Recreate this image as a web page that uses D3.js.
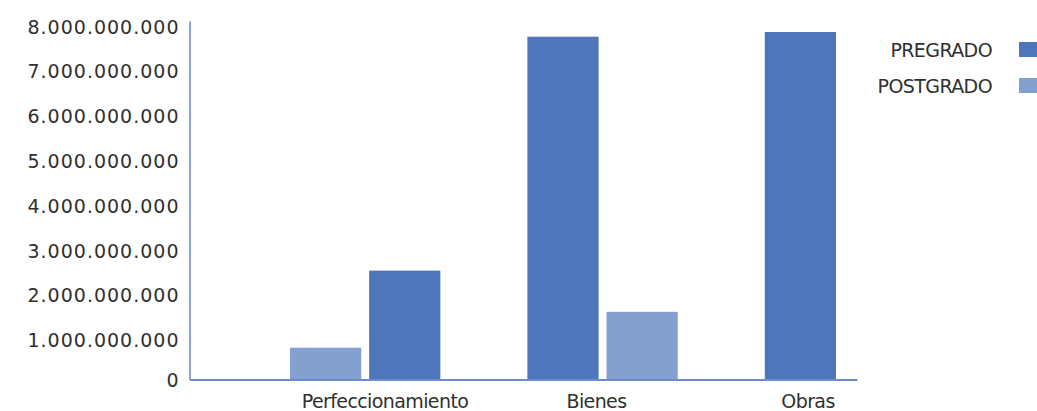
<!DOCTYPE html>
<html>
<head>
<meta charset="utf-8">
<script src="https://cdn.jsdelivr.net/npm/d3@7"></script>
<style>
  body { margin: 0; background: #fff; }
  text { font-family: "DejaVu Sans", sans-serif; fill: #303030; }
</style>
</head>
<body>
<div id="chart"></div>
<script>
// Data
var categories = ["Perfeccionamiento", "Bienes", "Obras"];
var seriesNames = ["PREGRADO", "POSTGRADO"];
var pregrado = [2430000000, 7650000000, 7755000000];
var postgrado = [710000000, 1510000000, null];
// order of the bars inside each group, as drawn in the picture
var barOrder = [["POSTGRADO", "PREGRADO"], ["PREGRADO", "POSTGRADO"], ["PREGRADO"]];
var yTicks = [0, 1e9, 2e9, 3e9, 4e9, 5e9, 6e9, 7e9, 8e9];

var w = 1037;
var h = 411;
var colors = { "PREGRADO": "#4e76ba", "POSTGRADO": "#83a0cf" };
var valuesBySeries = { "PREGRADO": pregrado, "POSTGRADO": postgrado };

// Plot area (names avoid window.top)
var plotLeft = 189.5, plotRight = 857, plotTop = 21, plotBottom = 379.5;

var svg = d3.select("#chart")
    .append("svg")
    .attr("width", w)
    .attr("height", h);

// Build list of bars and slot keys (a spacer slot between groups)
var bars = [];
var slots = [];
categories.forEach(function(c, i) {
    if (i > 0) slots.push("gap" + i);
    barOrder[i].forEach(function(s) {
        var v = valuesBySeries[s][i];
        if (v == null) return;
        var key = c + "|" + s;
        slots.push(key);
        bars.push({ key: key, category: c, series: s, value: v });
    });
});

var xSlot = d3.scaleBand()
    .domain(slots)
    .range([290, 836])
    .paddingInner(0.1)
    .paddingOuter(0);

// Category label positions
var xLabel = d3.scalePoint()
    .domain(categories)
    .range([385, 808]);

var yScale = d3.scaleLinear()
    .domain([0, 8e9])
    .range([plotBottom, plotTop]);

var locale = d3.formatLocale({ decimal: ",", thousands: ".", grouping: [3], currency: ["$", ""] });
var fmt = locale.format(",.0f");

// Bars
svg.selectAll("rect.bar")
    .data(bars)
    .enter()
    .append("rect")
    .attr("class", "bar")
    .attr("x", function(d) { return xSlot(d.key); })
    .attr("y", function(d) { return yScale(d.value); })
    .attr("width", xSlot.bandwidth())
    .attr("height", function(d) { return yScale(0) - yScale(d.value); })
    .attr("fill", function(d) { return colors[d.series]; });

// Y axis
var yAxis = d3.axisLeft(yScale)
    .tickValues(yTicks)
    .tickSize(0)
    .tickPadding(10)
    .tickFormat(fmt);

var gy = svg.append("g")
    .attr("transform", "translate(" + plotLeft + ",0)")
    .call(yAxis);
gy.select(".domain").attr("stroke", "#8ba6d6").attr("stroke-width", 2);
gy.selectAll("text")
    .attr("font-family", null)
    .style("font-size", "19px")
    .style("letter-spacing", "1px")
    .attr("dy", function(d) { return d === 0 ? "6.5" : "12"; });

// X axis line
var xAxisScale = d3.scaleLinear().range([plotLeft, plotRight]);
var gx = svg.append("g")
    .attr("transform", "translate(0," + plotBottom + ")")
    .call(d3.axisBottom(xAxisScale).tickValues([]).tickSizeOuter(0));
gx.select(".domain").attr("stroke", "#6d8dc8").attr("stroke-width", 2);

// Category labels
svg.selectAll("text.cat")
    .data(categories)
    .enter()
    .append("text")
    .attr("class", "cat")
    .attr("x", function(d) { return xLabel(d); })
    .attr("y", 408)
    .attr("text-anchor", "middle")
    .style("font-size", "19px")
    .style("letter-spacing", "-0.6px")
    .text(function(d) { return d; });

// Legend
var legend = svg.selectAll("g.legend")
    .data(seriesNames)
    .enter()
    .append("g")
    .attr("class", "legend")
    .attr("transform", function(d, i) { return "translate(0," + (i * 36) + ")"; });

legend.append("text")
    .attr("x", 992)
    .attr("y", 57)
    .attr("text-anchor", "end")
    .style("font-size", "19px")
    .style("letter-spacing", "-0.6px")
    .text(function(d) { return d; });

legend.append("rect")
    .attr("x", 1019)
    .attr("y", 42)
    .attr("width", 22)
    .attr("height", 15)
    .attr("fill", function(d) { return colors[d]; });
</script>
</body>
</html>
